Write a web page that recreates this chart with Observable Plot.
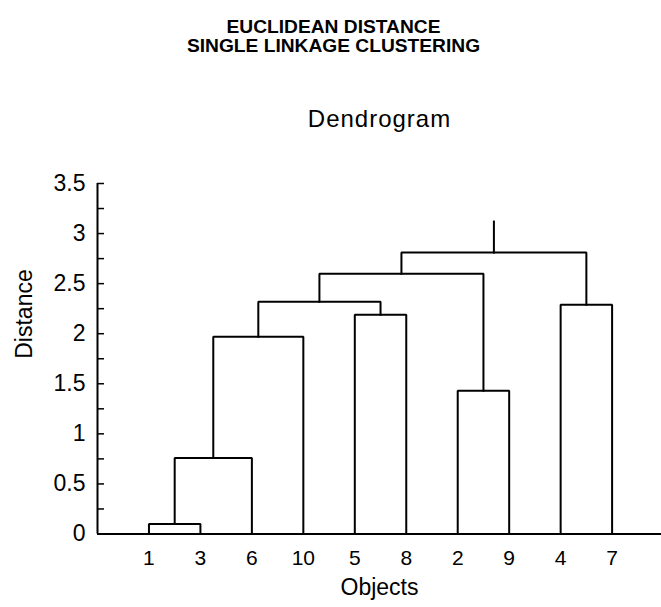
<!DOCTYPE html>
<html><head><meta charset="utf-8">
<script src="https://cdn.jsdelivr.net/npm/d3@7"></script>
<script src="https://cdn.jsdelivr.net/npm/@observablehq/plot@0.6"></script>
<style>
body{margin:0;background:#fff;font-family:"Liberation Sans",Arial,sans-serif;}
#wrap{width:661px;}
#head{position:relative;height:150px;}
.t{position:absolute;width:661px;text-align:center;color:#000;white-space:nowrap;}
.b{font-weight:bold;font-size:19.2px;line-height:19px;}
</style></head><body>
<div id="wrap">
<div id="head">
<div class="t b" style="left:3px;top:16.6px;">EUCLIDEAN DISTANCE</div>
<div class="t b" style="left:3px;top:36.2px;">SINGLE LINKAGE CLUSTERING</div>
<div class="t" style="left:49px;top:107px;font-size:24px;line-height:24px;letter-spacing:1px;">Dendrogram</div>
</div>
<div id="chart"></div>
</div>
<script>
// Leaf order along the x axis
const leafLabels = ["1","3","6","10","5","8","2","9","4","7"];
// Merges (single linkage): id, left child, right child, merge distance
const mergeIds    = ["A","B","C","D","E","F","G","H","R"];
const mergeLeft   = ["1","A","B","5","C","2","E","4","G"];
const mergeRight  = ["3","6","10","8","D","9","F","7","H"];
const mergeHeights = [0.10, 0.76, 1.97, 2.19, 2.32, 1.43, 2.60, 2.29, 2.81];
const rootStubTop = 3.12;
// Axis ticks
const yMajorTicks = [0, 0.5, 1, 1.5, 2, 2.5, 3, 3.5];
const yTickLabels = ["0", "0.5", "1", "1.5", "2", "2.5", "3", "3.5"];
const yMinorTicks = [0, 0.25, 0.5, 0.75, 1, 1.25, 1.5, 1.75, 2, 2.25, 2.5, 2.75, 3, 3.25, 3.5];
const xTitle = "Objects";
const yTitle = "Distance";

// Build dendrogram paths from the merge table
const node = new Map();
leafLabels.forEach((l, i) => node.set(l, {x: i + 1, h: 0}));
const segs = [];
mergeIds.forEach((id, i) => {
  const a = node.get(mergeLeft[i]), b = node.get(mergeRight[i]), h = mergeHeights[i];
  segs.push({id, x: a.x, y: a.h}, {id, x: a.x, y: h}, {id, x: b.x, y: h}, {id, x: b.x, y: b.h});
  node.set(id, {x: (a.x + b.x) / 2, h});
});
const root = node.get("R");
segs.push({id: "stub", x: root.x, y: root.h}, {id: "stub", x: root.x, y: rootStubTop});

const font = '"Liberation Sans", Arial, sans-serif';
const chart = Plot.plot({
  width: 661,
  height: 457,
  marginTop: 33,
  marginBottom: 73.5,
  marginLeft: 97,
  marginRight: 0,
  style: {fontFamily: font, color: "#000", background: "#fff", overflow: "visible"},
  x: {domain: [0, 10.96]},
  y: {domain: [0, 3.5]},
  marks: [
    Plot.axisX({ticks: d3.range(1, leafLabels.length + 1), tickSize: 0, tickPadding: 16,
      tickFormat: i => leafLabels[i - 1], fontSize: 21, label: null}),
    Plot.axisY({ticks: yMajorTicks, tickSize: 0, tickPadding: 12,
      tickFormat: d => yTickLabels[yMajorTicks.indexOf(d)], fontSize: 23, label: null}),
    Plot.axisY({ticks: yMinorTicks, tickSize: -7, tickFormat: () => "", strokeWidth: 1.5, label: null}),
    Plot.ruleY([0], {strokeWidth: 2}),
    Plot.ruleX([0], {strokeWidth: 2}),
    Plot.line(segs, {x: "x", y: "y", z: "id", stroke: "#000", strokeWidth: 2,
      strokeLinejoin: "miter", strokeLinecap: "square"}),
    Plot.text([yTitle], {text: d => d, frameAnchor: "left", dx: -73, rotate: -90, fontSize: 23}),
    Plot.text([xTitle], {text: d => d, frameAnchor: "bottom", dy: 60.5, fontSize: 23})
  ]
});
document.getElementById("chart").appendChild(chart);
</script>
</body></html>
